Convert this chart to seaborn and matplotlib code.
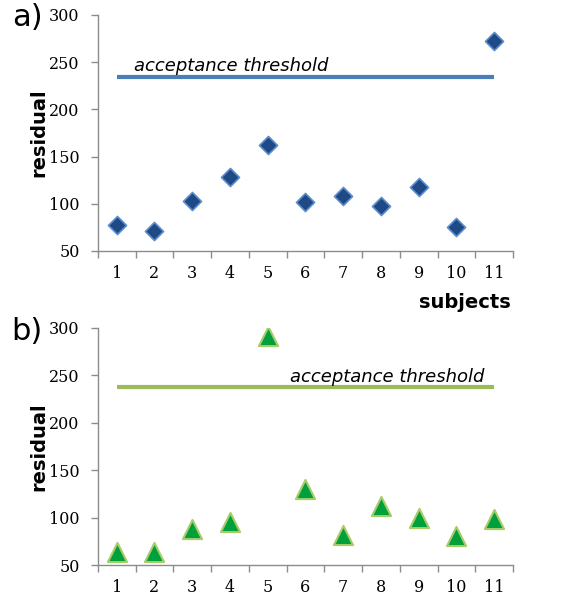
import numpy as np
import pandas as pd
import matplotlib
matplotlib.use("Agg")
import matplotlib.pyplot as plt
import seaborn as sns

# ==========================
# Data
# ==========================

subjects = list(range(1, 12))
residual_a = [77, 71, 103, 128, 162, 102, 108, 98, 118, 75, 272]
residual_b = [64, 64, 88, 95, 292, 130, 82, 112, 100, 81, 98]
threshold_a = 234
threshold_b = 238

df_a = pd.DataFrame({"subject": subjects, "residual": residual_a})
df_b = pd.DataFrame({"subject": subjects, "residual": residual_b})

sns.set_style("ticks")
plt.rcParams["font.family"] = ["DejaVu Sans"]
plt.rcParams["text.color"] = "black"
plt.rcParams["axes.labelcolor"] = "black"
plt.rcParams["xtick.labelcolor"] = "black"
plt.rcParams["ytick.labelcolor"] = "black"

fig = plt.figure(figsize=(5.62, 5.97), dpi=100)
ax_a = fig.add_axes([0.174, 0.5796, 0.739, 0.3954])
ax_b = fig.add_axes([0.174, 0.0536, 0.739, 0.397])

spine_col = "#8c8c8c"


def style_axis(ax):
    ax.set_xlim(0.5, 11.5)
    ax.set_ylim(50, 300)
    ax.set_yticks([50, 100, 150, 200, 250, 300])
    ax.set_xticks(subjects)
    ax.set_xticks(np.arange(0.5, 12, 1), minor=True)
    ax.tick_params(axis="x", which="major", length=0, pad=10)
    ax.tick_params(axis="x", which="minor", length=5, width=1, color=spine_col)
    ax.tick_params(axis="y", length=5, width=1, color=spine_col, pad=8)
    for lab in ax.get_xticklabels() + ax.get_yticklabels():
        lab.set_fontfamily("DejaVu Serif")
        lab.set_fontsize(11.5)
        lab.set_color("black")
    sns.despine(ax=ax)
    for s in ["left", "bottom"]:
        ax.spines[s].set_color(spine_col)
        ax.spines[s].set_linewidth(1)
    ax.set_xlabel("")
    ax.set_ylabel("residual", fontsize=14, fontweight="bold", color="black")
    ax.yaxis.set_label_coords(-0.12, 0.5)


# panel a
ax_a.hlines(threshold_a, subjects[0], subjects[-1], color="#4a7ebb", linewidth=3)
sns.scatterplot(data=df_a, x="subject", y="residual", marker="D", s=85,
                color="#1f4a85", edgecolor="#5b8fcf", linewidth=1.2, ax=ax_a, zorder=3)
ax_a.text(1.45, 241, "acceptance threshold", fontsize=13, style="italic", color="black")
style_axis(ax_a)

# panel b
ax_b.hlines(threshold_b, subjects[0], subjects[-1], color="#9bbb59", linewidth=3)
sns.scatterplot(data=df_b, x="subject", y="residual", marker="^", s=190,
                color="#00a03c", edgecolor="#a8cc6a", linewidth=1.5, ax=ax_b, zorder=3)
ax_b.text(5.6, 243, "acceptance threshold", fontsize=13, style="italic", color="black")
style_axis(ax_b)

fig.text(465 / 562, 1 - 302 / 597, "subjects", fontsize=14, fontweight="bold",
         ha="center", va="center", color="black")
fig.text(27 / 562, 1 - 18 / 597, "a)", fontsize=22, ha="center", va="center", color="black")
fig.text(27 / 562, 1 - 332 / 597, "b)", fontsize=22, ha="center", va="center", color="black")

fig.savefig("out.png", dpi=100)
